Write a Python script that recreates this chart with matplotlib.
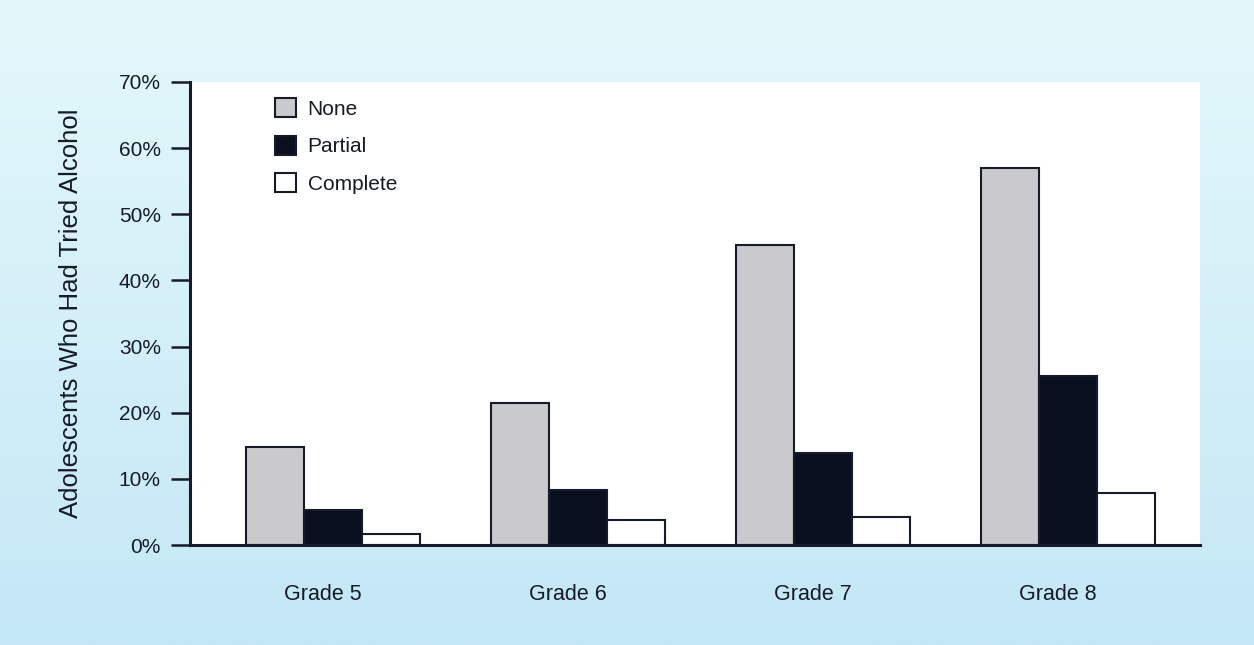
import matplotlib
matplotlib.use("Agg")
import matplotlib.pyplot as plt
import numpy as np

# values (percent)
grades = ["Grade 5", "Grade 6", "Grade 7", "Grade 8"]
none_vals = [14.8, 21.5, 45.4, 57.0]
partial_vals = [5.3, 8.3, 13.9, 25.6]
complete_vals = [1.7, 3.8, 4.2, 7.9]
series_names = ["None", "Partial", "Complete"]
yticks = [0, 10, 20, 30, 40, 50, 60, 70]

plt.rcParams['font.family'] = ['Liberation Sans', 'DejaVu Sans']
ink = '#161b28'

fig = plt.figure(figsize=(12.54, 6.45), dpi=100)
# light blue backdrop, paler at the top
bg = fig.add_axes([0, 0, 1, 1], zorder=-10)
grad = np.linspace(0, 1, 256).reshape(-1, 1)
cmap = matplotlib.colors.LinearSegmentedColormap.from_list('bg', ['#e4f8fb', '#c4e7f6'])
bg.imshow(grad, aspect='auto', cmap=cmap, extent=[0, 1, 0, 1], origin='upper')
bg.axis('off')

ax = fig.add_axes([0.1515, 0.155, 0.8055, 0.718])
ax.set_facecolor('white')

x = np.arange(len(grades))
w = 0.237
colors = ['#c9c9ce', '#0b1020', 'white']
for i, (vals, c) in enumerate(zip([none_vals, partial_vals, complete_vals], colors)):
    ax.bar(x + (i - 1) * w, vals, w, color=c, edgecolor=ink, linewidth=1.5,
           label=series_names[i], zorder=3)

ax.set_xlim(-0.584, 3.54)
ax.set_ylim(0, 70)
ax.set_yticks(yticks)
ax.set_yticklabels([f"{v}%" for v in yticks], fontsize=15, color=ink)
ax.set_xticks(x - 0.04)
ax.set_xticklabels(grades, fontsize=15.5, color=ink)
ax.tick_params(axis='x', length=0, pad=28)
ax.tick_params(axis='y', direction='out', length=14, width=1.8, color=ink, pad=7)

for s in ['top', 'right']:
    ax.spines[s].set_visible(False)
for s in ['left', 'bottom']:
    ax.spines[s].set_linewidth(2.2)
    ax.spines[s].set_color(ink)
ax.spines['bottom'].set_zorder(4)

ax.set_ylabel("Adolescents Who Had Tried Alcohol", fontsize=18.5, color=ink, labelpad=26)

leg = ax.legend(loc='upper left', bbox_to_anchor=(0.066, 1.005), frameon=False,
                fontsize=15, handlelength=1.0, handleheight=1.0,
                handletextpad=0.55, labelspacing=0.82)
for t in leg.get_texts():
    t.set_color(ink)

fig.savefig("out.png", dpi=100)
